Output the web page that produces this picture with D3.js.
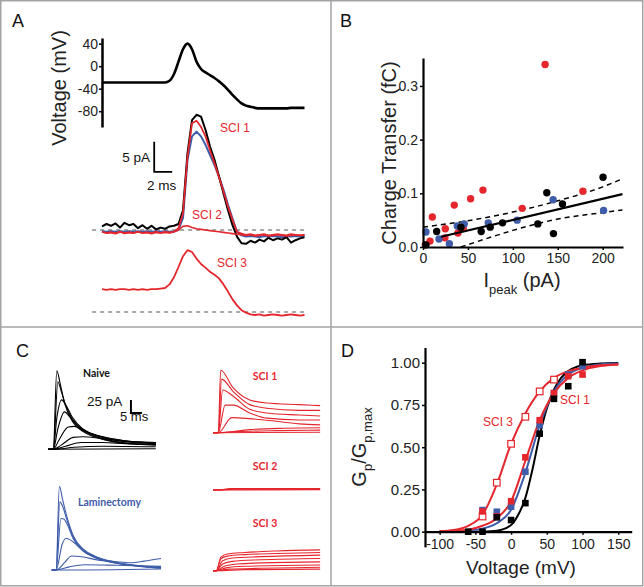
<!DOCTYPE html>
<html>
<head>
<meta charset="utf-8">
<script src="https://cdn.jsdelivr.net/npm/d3@7"></script>
<style>
  body { margin: 0; background: #fff; }
  svg { display: block; font-family: "Liberation Sans", Arial, sans-serif; }
</style>
</head>
<body>
<div id="fig"></div>
<script>
// ---------- Panel A: command waveform + currents, sampled every 0.5 ms ----------
var tA = [0,0.5,1,1.5,2,2.5,3,3.5,4,4.5,5,5.5,6,6.5,7,7.5,8,8.5,9,9.5,10,10.5,11,11.5,12,12.5,13,13.5,14,14.5,15,15.5,16,16.5,17,17.5,18,18.5,19,19.5,20,20.5,21,21.5,22,22.5];
var vCmd = [-29,-29,-29,-29,-29,-29,-29,-29,-29,-29,-29,-29,-29,-29,-29,-26,-14,8,30,40,30,8,-5,-11,-16,-21,-27,-34,-42,-51,-59,-66,-70,-72,-74,-75,-75,-75,-75,-75,-75,-75,-74,-74,-74,-74];
var iNaiveA = [0.6,1.0,0.7,1.1,0.4,1.2,0.8,1.0,0.3,0.8,0.2,0.7,0.1,0.4,0.2,0.6,0.7,1.0,3.3,12.8,18.3,19.2,18.9,16.7,13.9,11.7,8.9,6.1,3.3,0.8,-1.1,-2.2,-2.3,-1.8,-2.1,-1.6,-1.9,-1.3,-1.7,-1.4,-1.6,-1.2,-2.1,-1.7,-1.4,-1.2];
var iLamA = [-0.2,-0.3,-0.2,-0.3,-0.2,-0.3,-0.2,-0.3,-0.2,-0.3,-0.2,-0.3,-0.2,-0.3,-0.2,-0.3,-0.2,0.0,2.0,11.7,15.6,16.4,15.6,14.2,12.5,10.8,8.9,6.7,4.2,1.9,-0.3,-0.9,-1.1,-1.0,-1.1,-1.2,-1.0,-1.1,-1.0,-1.1,-1.2,-1.0,-1.1,-1.0,-1.1,-1.0];
var iSci1A = [-0.3,-0.5,-0.4,-0.6,-0.3,-0.5,-0.4,-0.5,-0.3,-0.5,-0.4,-0.6,-0.4,-0.5,-0.3,-0.4,-0.3,0.3,2.8,12.2,17.8,18.2,17.2,15.6,13.3,11.1,8.8,6.4,3.9,1.7,-0.3,-0.6,-0.8,-0.7,-0.9,-0.8,-0.7,-0.9,-0.8,-0.7,-0.8,-0.9,-0.7,-0.8,-0.9,-0.8];
var iSci2A = [-0.3,-0.5,-0.4,-0.5,-0.3,-0.6,-0.4,-0.5,-0.3,-0.5,-0.4,-0.5,-0.3,-0.5,-0.4,-0.5,-0.3,0.0,0.6,0.7,0.4,0.2,0.1,0.0,-0.1,-0.2,-0.3,-0.4,-0.5,-0.6,-0.7,-0.8,-0.9,-0.8,-1.0,-0.9,-0.8,-1.0,-0.9,-0.8,-0.9,-1.0,-0.9,-0.8,-0.9,-0.8];
var iSci3A = [3.8,3.7,3.8,3.7,3.8,3.8,3.7,3.8,3.7,3.8,3.7,3.8,3.8,3.9,4.0,4.6,5.8,7.5,9.3,10.3,10.0,8.9,8.0,7.4,6.7,6.2,5.6,4.6,3.4,2.1,1.1,0.3,-0.1,-0.4,-0.5,-0.4,-0.6,-0.5,-0.4,-0.5,-0.6,-0.5,-0.4,-0.5,-0.6,-0.5];
var vTicks = [40, 0, -40, -80];

// ---------- Panel B: charge transfer vs peak current ----------
var bNaive = [[3.3,0.004],[15.2,0.029],[42.2,0.037],[64.8,0.029],[74.8,0.037],[88.5,0.045],[127.8,0.043],[137.8,0.101],[145.2,0.025],[155.2,0.080],[200.4,0.130]];
var bLam = [[3.3,0.028],[17.8,0.015],[29.3,0.006],[38.1,0.039],[45.9,0.043],[72.6,0.045],[104.8,0.050],[144.8,0.088],[201,0.068]];
var bSci = [[2.6,0.004],[7.8,0.011],[10.4,0.056],[24.4,0.017],[24.8,0.034],[34.8,0.078],[38.9,0.026],[44.8,0.035],[53,0.090],[66.7,0.106],[110.4,0.072],[135.9,0.340],[178,0.104]];
var bFit = [[20,0.019],[222,0.0985]];
var bUpper = [[0,0.037],[50,0.049],[100,0.065],[150,0.086],[200,0.112],[222,0.127]];
var bLower = [[42,0],[75,0.018],[100,0.031],[150,0.052],[200,0.064],[222,0.069]];
var bxTicks = [0, 50, 100, 150, 200];
var byTicks = [0, 0.1, 0.2, 0.3];

// ---------- Panel C: current families (ms, pA) ----------
var cNaive = [
  [[0,0],[2.4,0],[4,151],[5.5,127],[7.6,88],[10.8,56],[16,34],[23.6,21],[34,12],[49,8]],
  [[0,0],[2.4,0],[4.5,130],[6,112],[8,85],[11,58],[16,36],[23.6,22],[34,13],[49,9]],
  [[0,0],[2.4,0],[4,60],[6.2,95],[8,86],[11,62],[16,38],[23.6,24],[34,15],[49,11]],
  [[0,0],[2.4,0],[4.5,40],[7.5,72],[10,62],[13,48],[18,34],[25,24],[34,17],[49,12]],
  [[0,0],[2.4,0],[5,18],[9.2,43],[12,44],[16,36],[23.6,25],[34,17],[49,13]],
  [[0,0],[2.4,0],[6,8],[11.5,23],[16,24],[23.6,21],[34,16],[49,13]],
  [[0,0],[2.4,0],[8,6],[15,13],[25,13],[35,11],[49,10]],
  [[0,0],[2.4,0],[12,4],[25,6],[49,5]],
  [[0,0],[49,1]]
];
var cLam = [
  [[0,0],[2,0],[3.5,161],[5,135],[6.8,104],[9.8,66],[14.4,40],[20,26],[29.5,15],[40,8],[49.7,5]],
  [[0,0],[2,0],[3.7,131],[5,122],[6.8,98],[9.8,63],[14.4,38],[20,25],[29.5,14],[40,8],[49.7,4]],
  [[0,0],[2,0],[4.2,99],[5.5,98],[6.8,90],[9.8,60],[14.4,37],[20,24],[29.5,13],[40,7],[49.7,4]],
  [[0,0],[2,0],[4.8,50],[6.5,61],[9.8,54],[14.4,36],[20,23],[29.5,13],[40,7],[49.7,4]],
  [[0,0],[2,0],[6,15],[9,27],[14.4,25],[20,20],[29.5,16],[36,14],[42,17],[49.7,22]],
  [[0,0],[2,0],[8,6],[15,10],[29.5,9],[49.7,7]],
  [[0,0],[2,0],[49.7,2]]
];
var cSci1 = [
  [[0,0],[2.4,0],[3.5,120],[9.2,86],[16.7,63],[24.4,57],[39.3,54],[48.7,52]],
  [[0,0],[2.4,0],[3.9,103],[9.2,79],[16.7,54],[24.4,47],[39.3,43],[48.7,43]],
  [[0,0],[2.4,0],[4.4,82],[9.2,70],[16.7,45],[24.4,38],[39.3,34],[48.7,32]],
  [[0,0],[2.4,0],[5.5,53],[9.2,53],[16.7,38],[24.4,28],[39.3,24.5],[48.7,24.5]],
  [[0,0],[2.4,0],[8.5,29],[16.7,27],[24.4,24],[39.3,17],[48.7,15]],
  [[0,0],[2.4,0],[16.7,6],[32.7,8.5],[48.7,9.5]],
  [[0,0],[2.4,0],[10.9,2],[29,4],[48.7,5]],
  [[0,0],[48.7,1]]
];
var cSci2 = [
  [[0,0],[2.4,0],[8,3],[48.7,3]],
  [[0,0],[2.4,0],[8,2],[48.7,2]],
  [[0,0],[2.4,0],[10,1.5],[48.7,1]],
  [[0,0],[48.7,0.5]]
];
var cSci3 = [
  [[0,0],[1.5,0],[3.6,26],[6.5,32],[14.5,35],[29,38],[48.7,40]],
  [[0,0],[1.5,0],[3.6,23],[6.5,28],[14.5,31],[29,33],[48.7,35]],
  [[0,0],[1.5,0],[4.4,19],[8.7,24.5],[21.8,27],[48.7,30]],
  [[0,0],[1.5,0],[4.4,13],[8.7,18],[21.8,21],[48.7,23.5]],
  [[0,0],[1.5,0],[5.1,8.5],[10.9,13],[21.8,15],[48.7,17]],
  [[0,0],[1.5,0],[5.8,5.5],[14.5,8.5],[48.7,11]],
  [[0,0],[1.5,0],[7.3,3],[21.8,4.7],[48.7,6.6]],
  [[0,0],[1.5,0],[14.5,2],[48.7,3]]
];

// ---------- Panel D: normalised conductance vs voltage ----------
var dNaivePts = [[-60,0],[-40,0],[-20,0.085],[0,0.069],[20,0.169],[40,0.58],[60,0.786],[80,0.861],[100,1.003]];
var dLamPts = [[-40,0.128],[-20,0.118],[0,0.148],[20,0.355],[40,0.631],[60,0.82],[80,0.93],[100,0.98]];
var dSci1Pts = [[-40,0.12],[-20,0.09],[0,0.18],[20,0.44],[40,0.66],[60,0.82],[80,0.92],[100,0.93]];
var dSci3Pts = [[-40,0.09],[-20,0.29],[0,0.52],[20,0.68],[40,0.83],[60,0.90]];
var dNaiveFit = [[-100,0],[-60,0],[-40,0.001],[-20,0.006],[0,0.04],[10,0.1],[20,0.2],[30,0.37],[40,0.57],[50,0.73],[60,0.84],[70,0.91],[80,0.95],[100,0.985],[125,0.995],[150,0.998]];
var dLamFit = [[-100,0.001],[-80,0.002],[-60,0.006],[-40,0.018],[-20,0.05],[0,0.13],[20,0.35],[40,0.63],[60,0.83],[80,0.93],[100,0.97],[125,0.99],[150,0.995]];
var dSci1Fit = [[-100,0.002],[-80,0.005],[-60,0.012],[-40,0.035],[-20,0.08],[0,0.18],[20,0.42],[40,0.66],[60,0.82],[80,0.91],[100,0.955],[125,0.98],[150,0.99]];
var dSci3Fit = [[-100,0.003],[-80,0.01],[-60,0.035],[-40,0.1],[-20,0.28],[0,0.52],[20,0.7],[40,0.83],[60,0.91],[80,0.95],[100,0.97],[125,0.985],[150,0.99]];
var dxTicks = [-100, -50, 0, 50, 100, 150];
var dyTicks = [0, 0.25, 0.5, 0.75, 1];

var RED = "#e5262d", BLUE = "#3e5ca9", FRAME = "#a3a3a3";

var svg = d3.select("#fig").append("svg").attr("width", 644).attr("height", 587);

// frame and panel dividers
svg.append("rect").attr("x", 0.75).attr("y", 0.75).attr("width", 642).attr("height", 585)
    .attr("fill", "none").attr("stroke", FRAME).attr("stroke-width", 1.5);
svg.append("line").attr("x1", 331).attr("x2", 331).attr("y1", 0).attr("y2", 586)
    .attr("stroke", FRAME).attr("stroke-width", 1.5);
svg.append("line").attr("x1", 0).attr("x2", 643).attr("y1", 327).attr("y2", 327)
    .attr("stroke", FRAME).attr("stroke-width", 1.5);

[["A", 12, 27], ["B", 340, 27], ["C", 16, 357], ["D", 341, 357]].forEach(function(p) {
    svg.append("text").attr("x", p[1]).attr("y", p[2]).text(p[0])
        .style("font-size", "18px").style("fill", "#111");
});

function styleAxis(g, w, fs) {
    g.select(".domain").attr("stroke", "#000").attr("stroke-width", w);
    g.selectAll(".tick line").attr("stroke", "#000").attr("stroke-width", 1.5);
    g.selectAll(".tick text").style("font-family", "Liberation Sans, Arial, sans-serif")
        .style("font-size", fs).style("fill", "#222");
}

// ================= Panel A =================
var xA = d3.scaleLinear().domain([0, 22.5]).range([102, 304.5]);
var yV = d3.scaleLinear().domain([-108, 50]).range([127, 38]);
var yI1 = d3.scaleLinear().domain([0, 20]).range([230, 110]);
var yI3 = d3.scaleLinear().domain([0, 20]).range([312, 192]);

var gVax = svg.append("g").attr("transform", "translate(102,0)")
    .call(d3.axisLeft(yV).tickValues(vTicks).tickSize(3).tickSizeOuter(0).tickPadding(1)
        .tickFormat(function(d) { return String(d); }));
styleAxis(gVax, 2.5, "14px");

svg.append("text").attr("transform", "translate(66,88) rotate(-90)")
    .attr("text-anchor", "middle").text("Voltage (mV)")
    .style("font-size", "20px").style("fill", "#222");

svg.append("path").datum(tA)
    .attr("d", d3.line().x(function(d) { return xA(d); })
        .y(function(d, i) { return yV(vCmd[i]); }).curve(d3.curveMonotoneX))
    .attr("fill", "none").attr("stroke", "#000").attr("stroke-width", 2.6);

// zero-current dashed baselines
[yI1, yI3].forEach(function(ys) {
    svg.append("line").attr("x1", xA(-1.1)).attr("x2", xA(22.6))
        .attr("y1", ys(0)).attr("y2", ys(0))
        .attr("stroke", "#555").attr("stroke-width", 1).attr("stroke-dasharray", "4,4");
});

function traceA(vals, ys, color, w) {
    svg.append("path").datum(tA)
        .attr("d", d3.line().x(function(d) { return xA(d); })
            .y(function(d, i) { return ys(vals[i]); }))
        .attr("fill", "none").attr("stroke", color).attr("stroke-width", w)
        .attr("stroke-linejoin", "round");
}
traceA(iLamA, yI1, BLUE, 2);
traceA(iNaiveA, yI1, "#000", 2);
traceA(iSci1A, yI1, RED, 1.8);
traceA(iSci2A, yI1, RED, 1.6);
traceA(iSci3A, yI3, RED, 1.8);

// 5 pA / 2 ms scale bar
svg.append("path")
    .attr("d", "M" + xA(5.8) + "," + yI1(14.7) + "V" + yI1(9.7) + "H" + xA(7.8))
    .attr("fill", "none").attr("stroke", "#000").attr("stroke-width", 1.8);
svg.append("text").attr("x", 150).attr("y", 162).attr("text-anchor", "end").text("5 pA")
    .style("font-size", "13.5px").style("fill", "#111");
svg.append("text").attr("x", 147).attr("y", 190).text("2 ms")
    .style("font-size", "13.5px").style("fill", "#111");
[["SCI 1", 220, 132], ["SCI 2", 192, 219], ["SCI 3", 217, 267]].forEach(function(l) {
    svg.append("text").attr("x", l[1]).attr("y", l[2]).text(l[0])
        .style("font-size", "12px").style("fill", RED);
});

// ================= Panel B =================
var xB = d3.scaleLinear().domain([0, 222.6]).range([423, 623]);
var yB = d3.scaleLinear().domain([0, 0.352]).range([247, 58]);

var lineB = d3.line().x(function(d) { return xB(d[0]); }).y(function(d) { return yB(d[1]); });
svg.append("path").datum(bUpper).attr("d", lineB.curve(d3.curveMonotoneX))
    .attr("fill", "none").attr("stroke", "#000").attr("stroke-width", 1.5).attr("stroke-dasharray", "5,4");
svg.append("path").datum(bLower).attr("d", lineB.curve(d3.curveMonotoneX))
    .attr("fill", "none").attr("stroke", "#000").attr("stroke-width", 1.5).attr("stroke-dasharray", "5,4");

[[bSci, RED], [bLam, BLUE], [bNaive, "#000"]].forEach(function(s) {
    svg.append("g").selectAll("circle").data(s[0]).enter().append("circle")
        .attr("cx", function(d) { return xB(d[0]); })
        .attr("cy", function(d) { return yB(d[1]); })
        .attr("r", 3.7).attr("fill", s[1]);
});
svg.append("path").datum(bFit).attr("d", lineB.curve(d3.curveLinear))
    .attr("fill", "none").attr("stroke", "#000").attr("stroke-width", 2.2);

var gBx = svg.append("g").attr("transform", "translate(0," + yB(0) + ")")
    .call(d3.axisBottom(xB).tickValues(bxTicks).tickSize(3).tickSizeOuter(0).tickPadding(3));
styleAxis(gBx, 2.2, "14px");
var gBy = svg.append("g").attr("transform", "translate(" + xB(0) + ",0)")
    .call(d3.axisLeft(yB).tickValues(byTicks).tickSize(3).tickSizeOuter(0).tickPadding(2)
        .tickFormat(d3.format(".1f")));
styleAxis(gBy, 2.2, "14px");

svg.append("text").attr("transform", "translate(396,153) rotate(-90)")
    .attr("text-anchor", "middle").text("Charge Transfer (fC)")
    .style("font-size", "20px").style("fill", "#222");
var bxl = svg.append("text").attr("x", 522).attr("y", 287).attr("text-anchor", "middle")
    .style("font-size", "20px").style("fill", "#222");
bxl.append("tspan").text("I");
bxl.append("tspan").attr("dy", 7).style("font-size", "13px").text("peak");
bxl.append("tspan").attr("dy", -7).text(" (pA)");

// ================= Panel C =================
function family(traces, x0, base, color) {
    var x = d3.scaleLinear().domain([0, 50]).range([x0, x0 + 110]);
    var y = d3.scaleLinear().domain([0, 100]).range([base, base - 52]);
    var ln = d3.line().x(function(d) { return x(d[0]); }).y(function(d) { return y(d[1]); })
        .curve(d3.curveMonotoneX);
    svg.append("g").selectAll("path").data(traces).enter().append("path")
        .attr("d", ln).attr("fill", "none").attr("stroke", color).attr("stroke-width", 1.1);
    return { x: x, y: y };
}
var sNaive = family(cNaive, 48, 449.3, "#000");
family(cLam, 51.7, 570, BLUE);
family(cSci1, 213, 432.7, RED);
family(cSci2, 213, 490, RED);
family(cSci3, 213, 570.7, RED);

// 25 pA / 5 ms scale bar (naive scaling)
svg.append("path")
    .attr("d", "M" + sNaive.x(37.7) + "," + sNaive.y(95) + "V" + sNaive.y(70) + "H" + sNaive.x(42.7))
    .attr("fill", "none").attr("stroke", "#000").attr("stroke-width", 2);
svg.append("text").attr("x", 87).attr("y", 406).text("25 pA")
    .style("font-size", "13.5px").style("fill", "#111");
svg.append("text").attr("x", 120).attr("y", 420.5).text("5 ms")
    .style("font-size", "13px").style("fill", "#111");

[["Naive", 83, 377, "#111", "start"], ["Laminectomy", 78, 506, BLUE, "start"],
 ["SCI 1", 265, 380, RED, "middle"], ["SCI 2", 265, 469.5, RED, "middle"],
 ["SCI 3", 265, 527, RED, "middle"]].forEach(function(l) {
    svg.append("text").attr("x", l[1]).attr("y", l[2]).attr("text-anchor", l[4]).text(l[0])
        .style("font-family", "Lato, 'Open Sans', sans-serif").style("font-weight", "bold")
        .style("font-size", "10.5px").style("fill", l[3]);
});

// ================= Panel D =================
var xD = d3.scaleLinear().domain([-120.5, 168.8]).range([425, 631.7]);
var yD = d3.scaleLinear().domain([-0.09, 1.09]).range([546.9, 347.5]);
var lineD = d3.line().x(function(d) { return xD(d[0]); }).y(function(d) { return yD(d[1]); })
    .curve(d3.curveMonotoneX);

[[dNaiveFit, "#000"], [dLamFit, BLUE], [dSci1Fit, RED], [dSci3Fit, RED]].forEach(function(s) {
    svg.append("path").datum(s[0]).attr("d", lineD)
        .attr("fill", "none").attr("stroke", s[1]).attr("stroke-width", 2);
});

var gDx = svg.append("g").attr("transform", "translate(0," + yD(0) + ")")
    .call(d3.axisBottom(xD).tickValues(dxTicks).tickSize(3).tickSizeOuter(0).tickPadding(4)
        .tickFormat(function(d) { return String(d); }));
styleAxis(gDx, 2.2, "14px");
var gDy = svg.append("g").attr("transform", "translate(425,0)")
    .call(d3.axisLeft(yD).tickValues(dyTicks).tickSize(3).tickSizeOuter(0).tickPadding(2)
        .tickFormat(d3.format(".2f")));
styleAxis(gDy, 2.2, "15px");

function squares(pts, color, open) {
    svg.append("g").selectAll("rect").data(pts).enter().append("rect")
        .attr("x", function(d) { return xD(d[0]) - 3.3; })
        .attr("y", function(d) { return yD(d[1]) - 3.3; })
        .attr("width", 6.6).attr("height", 6.6)
        .attr("fill", open ? "#fff" : color).attr("stroke", color)
        .attr("stroke-width", open ? 1.2 : 0);
}
squares(dSci3Pts, RED, true);
squares(dLamPts, BLUE, false);
squares(dSci1Pts, RED, false);
squares(dNaivePts, "#000", false);

svg.append("text").attr("x", 483).attr("y", 426).text("SCI 3")
    .style("font-size", "12px").style("fill", RED);
svg.append("text").attr("x", 560).attr("y", 404).text("SCI 1")
    .style("font-size", "12px").style("fill", RED);

var dyl = svg.append("text").attr("transform", "translate(366,447) rotate(-90)")
    .attr("text-anchor", "middle").style("font-size", "20px").style("fill", "#222");
dyl.append("tspan").text("G");
dyl.append("tspan").attr("dy", 6).style("font-size", "13px").text("p");
dyl.append("tspan").attr("dy", -6).text("/G");
dyl.append("tspan").attr("dy", 6).style("font-size", "13px").text("p,max");

svg.append("text").attr("x", 521).attr("y", 574).attr("text-anchor", "middle")
    .text("Voltage (mV)").style("font-size", "19px").style("fill", "#222");
</script>
</body>
</html>
